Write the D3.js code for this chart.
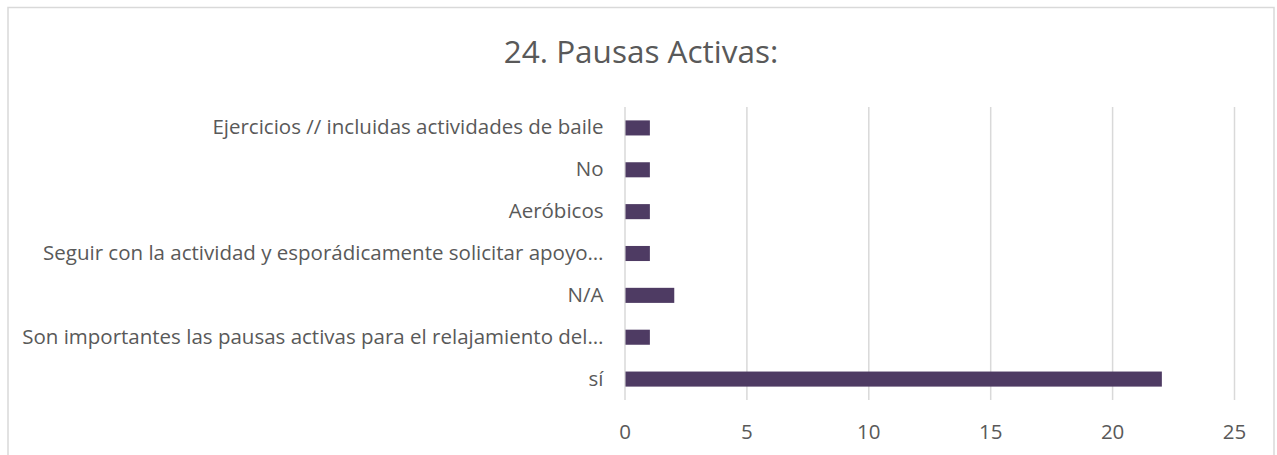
<!DOCTYPE html>
<meta charset="utf-8">
<style type="text/css">
  body { margin: 0; background: #fff; }
  text { font-family: "Open Sans", sans-serif; fill: #595959; }
  .grid line { stroke: #d9d9d9; stroke-width: 1.5px; }
  .grid path { display: none; }
  .bar { fill: #4e3b63; }
</style>
<body></body>
<script src="https://d3js.org/d3.v7.min.js"></script>
<script>

// data, top to bottom as in the chart
var categories = [
  "Ejercicios // incluidas actividades de baile",
  "No",
  "Aeróbicos",
  "Seguir con la actividad y esporádicamente solicitar apoyo…",
  "N/A",
  "Son importantes las pausas activas para el relajamiento del…",
  "sí"
];
var values = [1, 1, 1, 1, 2, 1, 22];
var xTicks = [0, 5, 10, 15, 20, 25];
var title = "24. Pausas Activas:";

var W = 1277, H = 455;
var margin = {top: 107, left: 624.5, right: 43, bottom: 55};
var w = W - margin.left - margin.right,
    h = H - margin.top - margin.bottom;

var svg = d3.select("body").append("svg")
    .attr("width", W)
    .attr("height", H);

// chart area border
svg.append("rect")
    .attr("x", 8).attr("y", 7.5)
    .attr("width", 1266).attr("height", 460)
    .attr("fill", "none")
    .attr("stroke", "#d9d9d9")
    .attr("stroke-width", 1.5);

svg.append("text")
    .attr("x", 641).attr("y", 63)
    .attr("text-anchor", "middle")
    .style("font-size", "31.5px")
    .text(title);

var chart = svg.append("g")
    .attr("transform", "translate(" + margin.left + "," + margin.top + ")");

var xscale = d3.scaleLinear().domain([0, 25]).range([0, w]);
var yscale = d3.scaleBand().domain(categories).range([0, h]).paddingInner(0.64).paddingOuter(0.32);

// vertical gridlines
chart.append("g")
    .attr("class", "grid")
    .call(d3.axisBottom(xscale).tickValues(xTicks).tickSize(h).tickFormat(""));

// x tick labels
chart.append("g")
    .attr("class", "grid")
    .attr("transform", "translate(0," + h + ")")
    .call(d3.axisBottom(xscale).tickValues(xTicks).tickSize(0).tickPadding(24))
    .selectAll("text")
    .style("font-size", "20.5px")
    .style("fill", "#595959");

chart.selectAll("rect.bar")
    .data(values)
    .enter()
    .append("rect")
    .attr("class", "bar")
    .attr("x", xscale(0) + 1)
    .attr("y", function(d, i) { return yscale(categories[i]); })
    .attr("width", function(d) { return xscale(d) - xscale(0); })
    .attr("height", yscale.bandwidth());

// category labels
chart.append("g")
    .call(d3.axisLeft(yscale).tickSize(0).tickPadding(21))
    .call(function(g) { g.select(".domain").remove(); })
    .selectAll("text")
    .style("font-size", "20.5px")
    .style("fill", "#595959");

</script>
